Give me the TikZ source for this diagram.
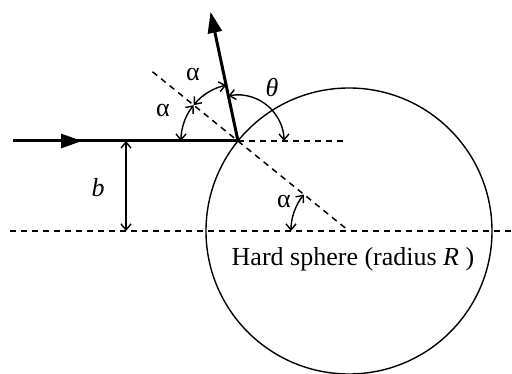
\documentclass[tikz,border=0pt]{standalone}
\usepackage{fontspec}
\setmainfont{Liberation Serif}
\usetikzlibrary{arrows.meta,calc}
\begin{document}
\begin{tikzpicture}[x=1pt,y=1pt,
  thickline/.style={line width=3pt},
  thinline/.style={line width=1.4pt},
  dashline/.style={line width=1.5pt, dash pattern=on 6pt off 5pt},
  bigtip/.style={-{Triangle[length=21pt,width=14pt]}},
  angarrow/.style={thinline,{Straight Barb[length=6pt,width=10pt]}-{Straight Barb[length=6pt,width=10pt]}},
  lab/.style={font=\fontsize{26}{28}\selectfont, inner sep=0pt}]
\useasboundingbox (0,0) rectangle (512,374);
\coordinate (C) at (238,233);
\coordinate (O) at (349,143);
% sphere
\draw[thinline] (O) circle (143);
% dashed lines
\coordinate (Dfar) at ($(C)+(141:110)$);
\draw[dashline] (Dfar) -- (O);
\coordinate (Hend) at (345,233);
\draw[dashline] (C) -- (Hend);
\coordinate (Lstart) at (10,143);
\coordinate (Lend) at (512,143);
\draw[dashline] (Lstart) -- (Lend);
% incoming ray
\coordinate (In) at (13,233);
\coordinate (InTip) at (82,233);
\coordinate (InMid) at (75,233);
\draw[thickline,bigtip] (In) -- (InTip);
\draw[thickline] (InMid) -- (C);
% reflected ray
\coordinate (Out) at ($(C)+(102:132)$);
\draw[thickline,bigtip] (C) -- (Out);
% impact parameter
\coordinate (Btop) at (126,233);
\coordinate (Bbot) at (126,143);
\draw[angarrow] (Btop) -- (Bbot);
\node[lab] (blab) at (98,186) {\textit{b}};
% angle arcs
\draw[angarrow] ($(C)+(180:57)$) arc[start angle=180,end angle=141,radius=57];
\draw[angarrow] ($(C)+(141:57)$) arc[start angle=141,end angle=102,radius=57];
\draw[angarrow] ($(C)+(102:46)$) arc[start angle=102,end angle=0,radius=46];
\draw[angarrow] ($(O)+(180:58)$) arc[start angle=180,end angle=141,radius=58];
\node[lab] (a1) at (163,263) {α};
\node[lab] (a2) at (193,299) {α};
\node[lab] (th) at (272,286) {\textit{θ}};
\node[lab] (a3) at (284,172) {α};
\node[lab] (hs) at (353,115) {Hard sphere (radius \textit{R} )};
\end{tikzpicture}
\end{document}
